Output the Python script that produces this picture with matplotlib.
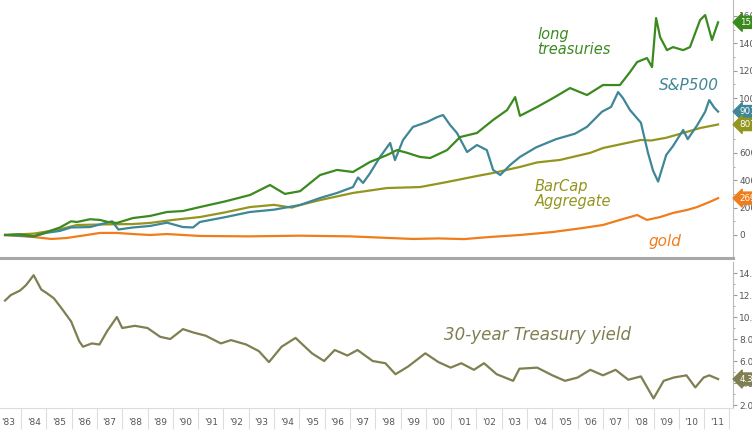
import matplotlib
matplotlib.use('Agg')
import matplotlib.pyplot as plt

# cumulative % change since mid-1983
lt_years = [1983.37, 1983.96, 1984.51, 1984.99, 1985.54, 1985.98, 1986.21, 1986.73, 1987.12, 1987.44,
            1987.79, 1988.43, 1989.10, 1989.77, 1990.40, 1991.07, 1992.06, 1993.05, 1993.84, 1994.43,
            1995.03, 1995.82, 1996.49, 1997.12, 1997.79, 1998.47, 1998.86, 1999.26, 1999.77, 2000.17,
            2000.84, 2001.35, 2002.02, 2002.66, 2003.21, 2003.53, 2003.72, 2004.40, 2005.03, 2005.70,
            2006.37, 2007.00, 2007.67, 2008.07, 2008.35, 2008.74, 2008.94, 2009.10, 2009.26, 2009.53,
            2009.77, 2010.17, 2010.44, 2010.72, 2010.84, 2011.04, 2011.31, 2011.55]
lt_vals = [0, 5, -10, 20, 55, 100, 95, 115, 110, 95,
           88, 124, 139, 168, 175, 204, 245, 292, 365, 300,
           320, 438, 475, 460, 533, 584, 620, 600, 570, 562,
           620, 715, 745, 840, 912, 1007, 870, 935, 1000, 1073,
           1022, 1095, 1095, 1190, 1263, 1292, 1226, 1584, 1445, 1350,
           1372, 1350, 1372, 1511, 1570, 1606, 1424, 1553]

spx_years = [1983.37, 1983.96, 1984.51, 1984.99, 1985.54, 1985.98, 1986.73, 1987.60, 1987.85, 1988.43,
             1989.10, 1989.77, 1990.40, 1990.80, 1991.07, 1992.06, 1993.05, 1994.00, 1995.03, 1995.82,
             1996.49, 1997.12, 1997.32, 1997.52, 1997.79, 1998.19, 1998.59, 1998.78, 1999.10, 1999.49,
             2000.05, 2000.45, 2000.68, 2000.96, 2001.23, 2001.63, 2002.02, 2002.41, 2002.66, 2002.94,
             2003.33, 2003.72, 2004.36, 2005.15, 2005.90, 2006.37, 2006.96, 2007.32, 2007.60, 2007.79,
             2008.07, 2008.50, 2008.78, 2008.98, 2009.18, 2009.50, 2009.77, 2010.17, 2010.35, 2010.72,
             2011.04, 2011.20, 2011.40, 2011.55]
spx_vals = [0, -5, -10, 15, 30, 55, 58, 100, 40, 55,
            66, 90, 58, 55, 95, 130, 168, 185, 219, 270,
            307, 350, 420, 380, 450, 570, 672, 547, 694, 789,
            825, 861, 876, 803, 745, 606, 657, 620, 475, 438,
            511, 570, 640, 700, 740, 790, 900, 935, 1044, 1000,
            912, 820, 600, 470, 390, 584, 650, 767, 700, 800,
            900, 985, 930, 901]

agg_years = [1983.37, 1984.51, 1985.50, 1986.21, 1987.50, 1988.43, 1989.10, 1990.00, 1991.07, 1992.06,
             1993.05, 1994.00, 1994.70, 1995.03, 1995.82, 1997.12, 1998.47, 1999.77, 2000.84, 2002.00,
             2002.66, 2003.72, 2004.40, 2005.30, 2006.50, 2007.00, 2008.50, 2008.90, 2009.50, 2010.17,
             2010.84, 2011.55]
agg_vals = [0, 10, 40, 73, 78, 80, 88, 110, 131, 165,
            204, 220, 200, 219, 255, 307, 343, 350, 387, 430,
            453, 497, 530, 548, 600, 635, 694, 690, 710, 745,
            781, 807]

gold_years = [1983.37, 1984.51, 1985.20, 1985.80, 1986.60, 1987.12, 1987.79, 1988.43, 1989.10, 1989.77,
              1990.40, 1991.07, 1993.00, 1995.00, 1997.00, 1999.50, 2000.50, 2001.50, 2002.50, 2003.72,
              2005.03, 2006.20, 2007.00, 2007.67, 2008.35, 2008.74, 2009.26, 2009.77, 2010.33, 2010.72,
              2011.20, 2011.55]
gold_vals = [0, -15, -29, -22, 0, 15, 15, 7, 0, 7,
             0, -7, -10, -5, -10, -29, -25, -30, -15, 0,
             22, 51, 73, 110, 146, 110, 131, 161, 183, 204,
             240, 269]

# 30-year treasury yield, %
ty_years = [1983.37, 1983.60, 1983.96, 1984.20, 1984.50, 1984.80, 1985.00, 1985.30, 1985.60, 1985.98,
            1986.30, 1986.45, 1986.80, 1987.10, 1987.40, 1987.79, 1988.00, 1988.50, 1989.00, 1989.50,
            1989.90, 1990.40, 1990.80, 1991.30, 1991.90, 1992.30, 1992.90, 1993.40, 1993.80, 1994.30,
            1994.85, 1995.50, 1995.98, 1996.40, 1996.90, 1997.30, 1997.90, 1998.40, 1998.80, 1999.30,
            1999.98, 2000.50, 2000.98, 2001.40, 2001.90, 2002.30, 2002.80, 2003.45, 2003.70, 2004.40,
            2005.00, 2005.50, 2006.00, 2006.50, 2007.00, 2007.50, 2008.00, 2008.50, 2009.00, 2009.40,
            2009.80, 2010.30, 2010.65, 2010.98, 2011.20, 2011.55]
ty_vals = [11.5, 12.0, 12.4, 12.9, 13.8, 12.5, 12.2, 11.7, 10.8, 9.6,
           7.8, 7.3, 7.6, 7.5, 8.7, 10.0, 9.0, 9.2, 9.0, 8.2,
           8.0, 8.9, 8.6, 8.3, 7.6, 7.9, 7.5, 6.9, 5.9, 7.3,
           8.1, 6.7, 6.0, 7.0, 6.5, 7.0, 6.0, 5.8, 4.8, 5.5,
           6.7, 5.9, 5.4, 5.8, 5.2, 5.8, 4.8, 4.2, 5.3, 5.4,
           4.7, 4.2, 4.5, 5.2, 4.7, 5.2, 4.3, 4.6, 2.6, 4.2,
           4.5, 4.7, 3.6, 4.5, 4.7, 4.36]

year_labels = ["'%02d" % (y % 100) for y in range(1983, 2012)]

c_lt = '#3b8a1f'
c_spx = '#3f8796'
c_agg = '#94951f'
c_gold = '#f07d1c'
c_ty = '#7f7f52'
axis_gray = '#9a9a9a'
text_gray = '#555555'

fig = plt.figure(figsize=(7.52, 4.34), dpi=100)
ax1 = fig.add_axes([0, 1 - 258 / 434, 733 / 752, 258 / 434])
ax2 = fig.add_axes([0, 1 - 408 / 434, 733 / 752, (408 - 262) / 434])

for ax in (ax1, ax2):
    ax.set_xlim(1983.17, 2012.14)
    ax.spines['top'].set_visible(False)
    ax.spines['left'].set_visible(False)
    ax.spines['right'].set_color('#bbbbbb')
    ax.yaxis.tick_right()
    ax.tick_params(axis='y', which='major', direction='out', length=3, color=axis_gray,
                   labelsize=6.5, labelcolor=text_gray, pad=1.5)
    ax.tick_params(axis='y', which='minor', direction='out', length=1.5, color=axis_gray)

# top panel
ax1.plot(gold_years, gold_vals, color=c_gold, lw=1.6)
ax1.plot(agg_years, agg_vals, color=c_agg, lw=1.6)
ax1.plot(spx_years, spx_vals, color=c_spx, lw=1.6)
ax1.plot(lt_years, lt_vals, color=c_lt, lw=1.6)
ax1.set_ylim(-168, 1716)
ax1.set_yticks(range(0, 1601, 200))
ax1.set_yticks(range(100, 1601, 200), minor=True)
ax1.set_xticks([])
ax1.spines['bottom'].set_color('#a8a8a8')
ax1.spines['bottom'].set_linewidth(2.2)

# bottom panel
ax2.plot(ty_years, ty_vals, color=c_ty, lw=1.6)
ax2.set_ylim(1.73, 15.0)
ax2.set_yticks(range(2, 15, 2))
ax2.set_yticklabels(['%.2f' % v for v in range(2, 15, 2)])
ax2.set_yticks(range(3, 15, 2), minor=True)
ax2.spines['bottom'].set_color('#dddddd')
ax2.set_xticks(range(1984, 2013))
ax2.set_xticklabels([])
ax2.set_xticks([y + 0.5 for y in range(1983, 2012)], minor=True)
ax2.set_xticklabels(year_labels, minor=True)
ax2.tick_params(axis='x', which='major', direction='out', length=15, color='#dddddd')
ax2.tick_params(axis='x', which='minor', length=0, labelsize=6.5, labelcolor=text_gray, pad=7)

# value tags on the right axis
def tag(ax, v, s, c):
    ax.text(1.009, v, s, transform=ax.get_yaxis_transform(), ha='left', va='center',
            color='white', fontsize=6.3, clip_on=False,
            bbox=dict(boxstyle='larrow,pad=0.18', fc=c, ec=c))

tag(ax1, lt_vals[-1], '1553', c_lt)
tag(ax1, spx_vals[-1], '901', c_spx)
tag(ax1, agg_vals[-1], '807', c_agg)
tag(ax1, gold_vals[-1], '269', c_gold)
tag(ax2, ty_vals[-1], '4.36', c_ty)

# hand-written style notes
ax1.text(2004.4, 1409, 'long\ntreasuries', color=c_lt, fontsize=10.5, ha='left', va='center',
         linespacing=0.95, style='italic')
ax1.text(2010.4, 1095, 'S&P500', color=c_spx, fontsize=11, ha='center', va='center', style='italic')
ax1.text(2004.3, 300, 'BarCap\nAggregate', color=c_agg, fontsize=10.5, ha='left', va='center',
         linespacing=1.0, style='italic')
ax1.text(2009.45, -51, 'gold', color=c_gold, fontsize=11, ha='center', va='center', style='italic')
ax2.text(2004.4, 8.36, '30-year Treasury yield', color=c_ty, fontsize=12, ha='center', va='center',
         style='italic')

fig.savefig('out.png', dpi=100)
